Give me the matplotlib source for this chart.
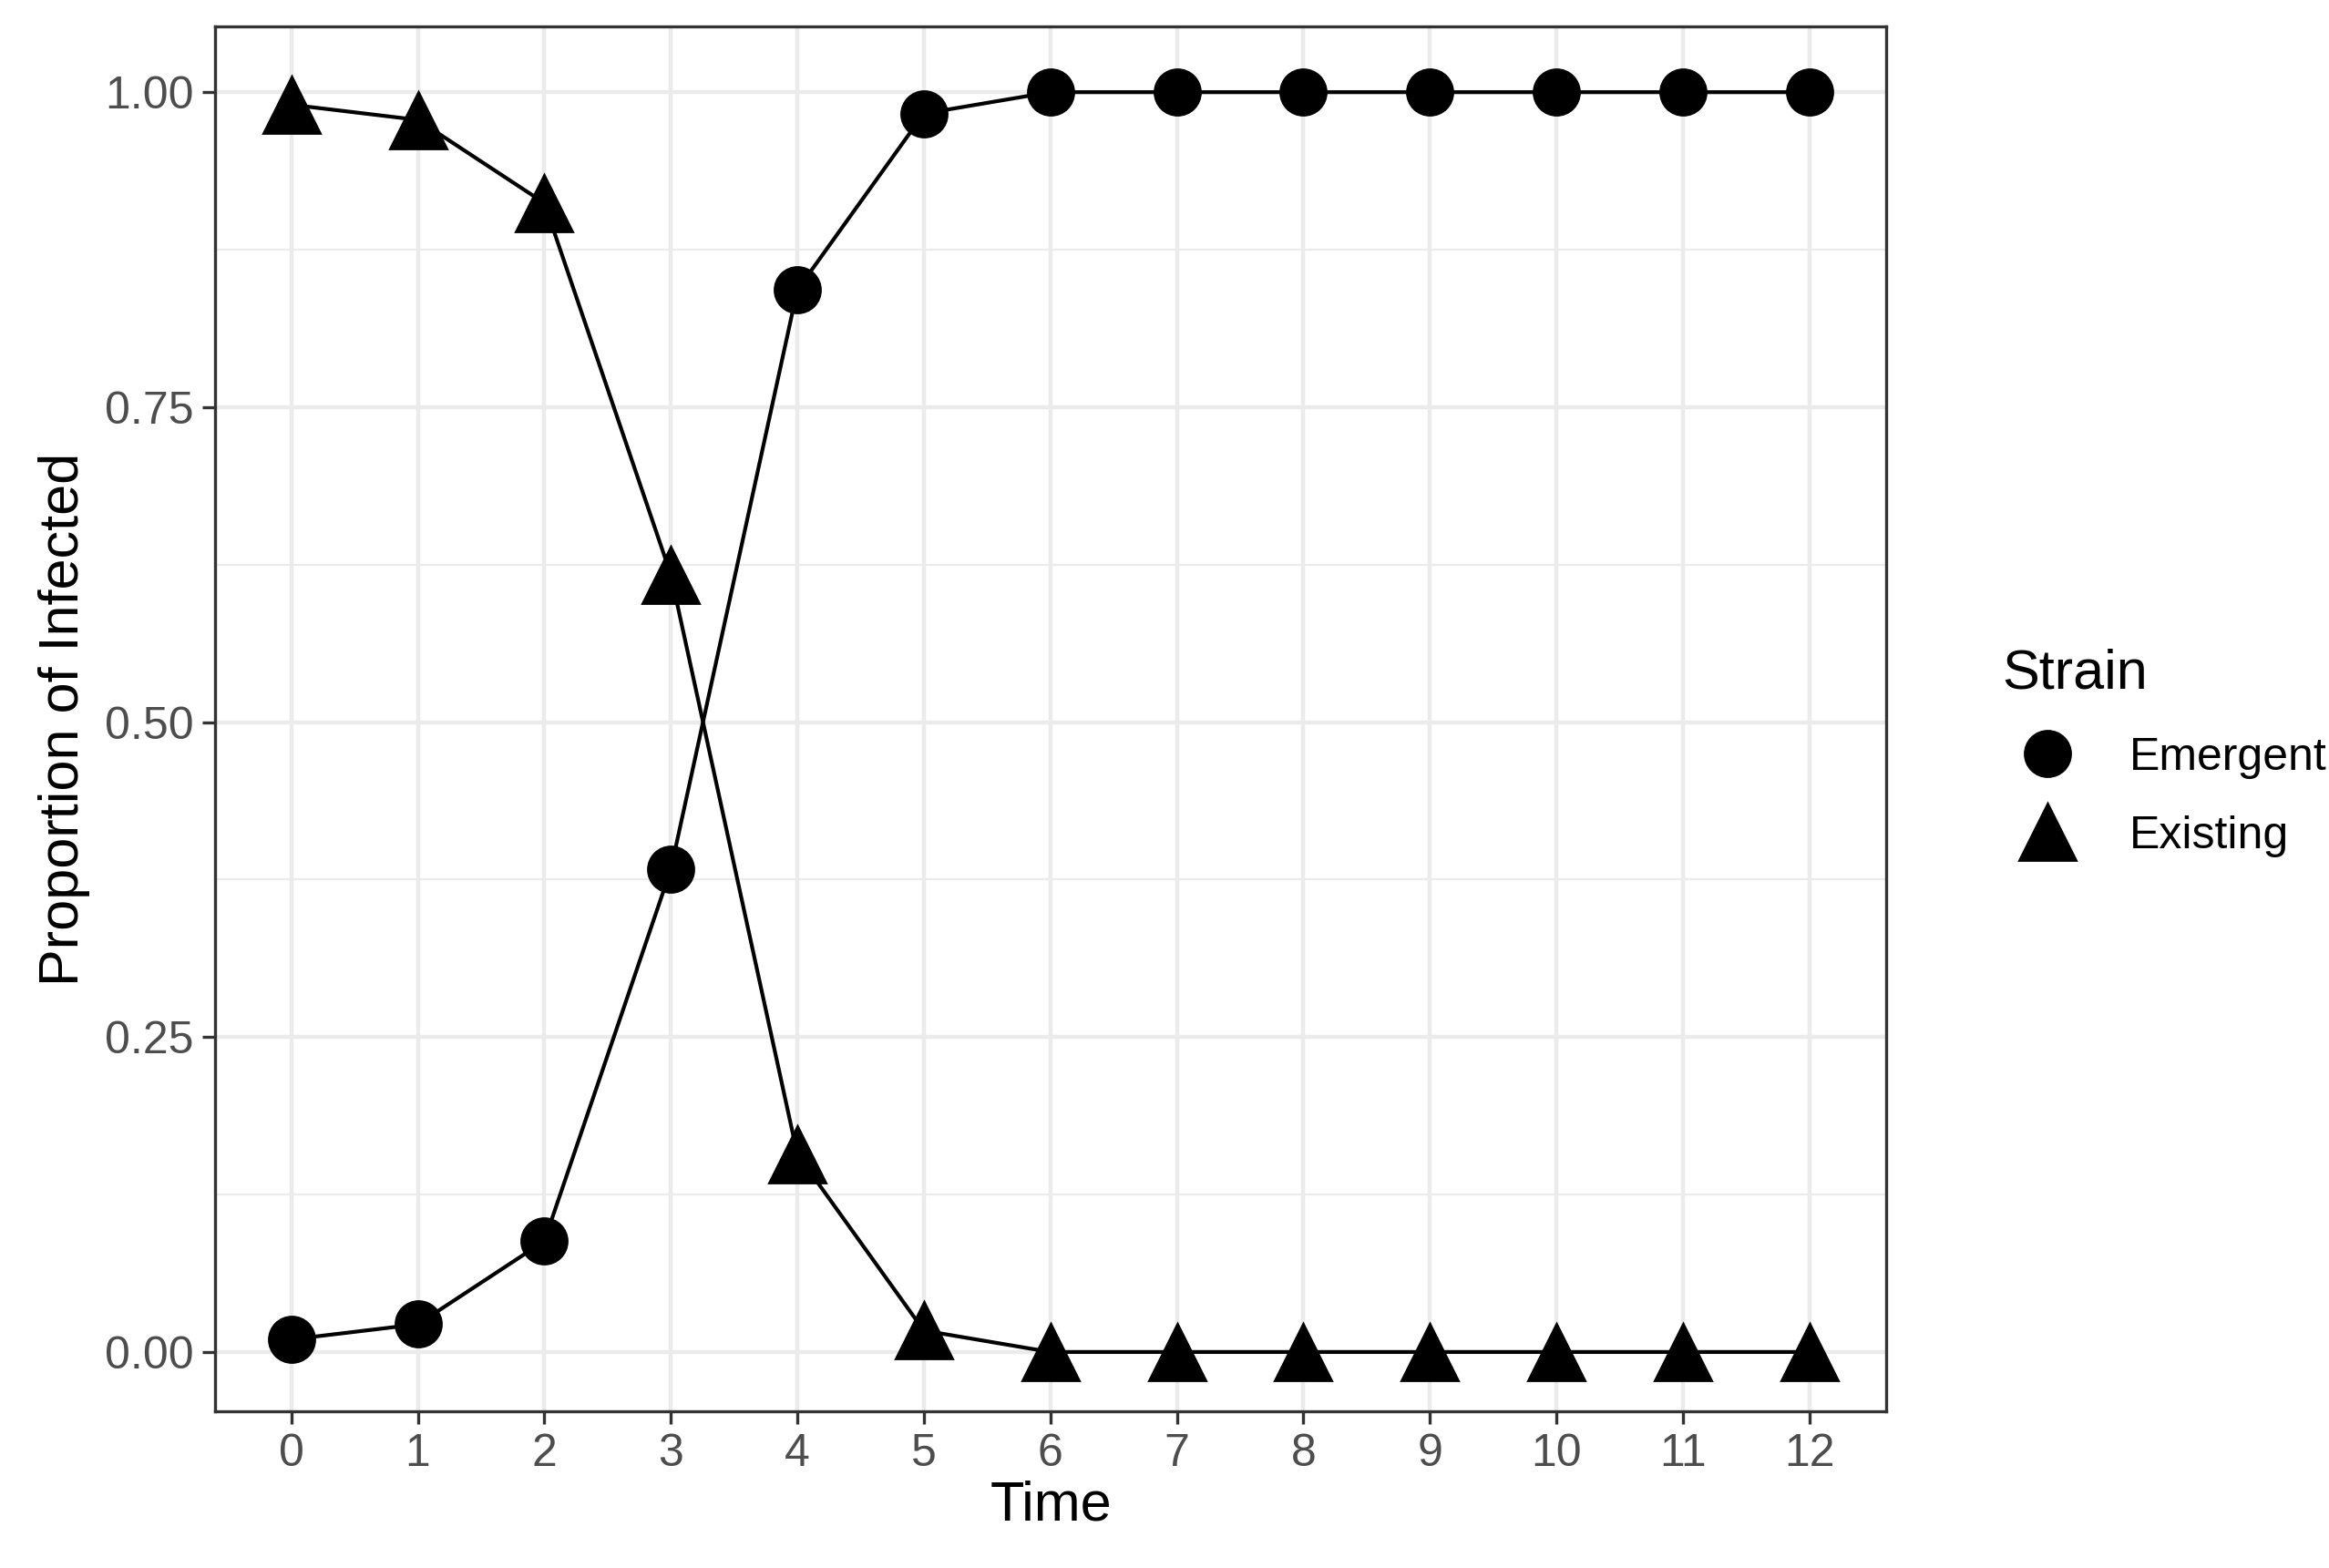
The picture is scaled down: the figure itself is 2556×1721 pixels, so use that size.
import matplotlib
matplotlib.use("Agg")
import matplotlib.pyplot as plt
from matplotlib.lines import Line2D

time = list(range(13))
emergent = [0.010, 0.022, 0.088, 0.383, 0.843, 0.983, 1, 1, 1, 1, 1, 1, 1]
existing = [0.990, 0.978, 0.912, 0.617, 0.157, 0.017, 0, 0, 0, 0, 0, 0, 0]
yticks = [0.00, 0.25, 0.50, 0.75, 1.00]
ylabels = ["0.00", "0.25", "0.50", "0.75", "1.00"]

plt.rcParams['font.family'] = ['Liberation Sans', 'DejaVu Sans']
fig = plt.figure(figsize=(12.78, 8.605), dpi=200)
ax = fig.add_axes([0.0925, 0.10, 0.7175, 0.883])
ax.plot(time, emergent, color='black', lw=1.5, marker='o', ms=18, zorder=3)
ax.plot(time, existing, color='black', lw=1.5, marker='^', ms=22, zorder=3)
ax.set_xlim(-0.6, 12.61)
ax.set_ylim(-0.047, 1.052)
ax.set_xticks(time)
ax.set_yticks(yticks)
ax.set_yticklabels(ylabels)
ax.set_yticks([0.125, 0.375, 0.625, 0.875], minor=True)
ax.grid(True, which='major', color='#ebebeb', lw=1.6)
ax.grid(True, which='minor', color='#ebebeb', lw=0.8)
ax.set_axisbelow(True)
ax.tick_params(axis='both', which='major', labelsize=18, colors='#4d4d4d', length=5, width=1.2)
ax.tick_params(which='minor', length=0)
for lbl in ax.get_xticklabels() + ax.get_yticklabels():
    lbl.set_color('#4d4d4d')
ax.tick_params(axis='both', which='major', colors='#333333', labelcolor='#4d4d4d')
for s in ax.spines.values():
    s.set_color('#333333'); s.set_linewidth(1.2)
ax.set_xlabel("Time", fontsize=22, labelpad=2)
ax.set_ylabel("Proportion of Infected", fontsize=22, labelpad=6)
handles = [Line2D([], [], color='black', marker='o', ls='none', ms=18),
           Line2D([], [], color='black', marker='^', ls='none', ms=22)]
leg = fig.legend(handles, ["Emergent", "Existing"], title="Strain", loc='center left',
                 bbox_to_anchor=(0.842, 0.52), frameon=False, fontsize=18,
                 title_fontsize=22, labelspacing=0.8, handletextpad=0.8)
leg._legend_box.align = "left"
fig.savefig("out.png", dpi=200)
